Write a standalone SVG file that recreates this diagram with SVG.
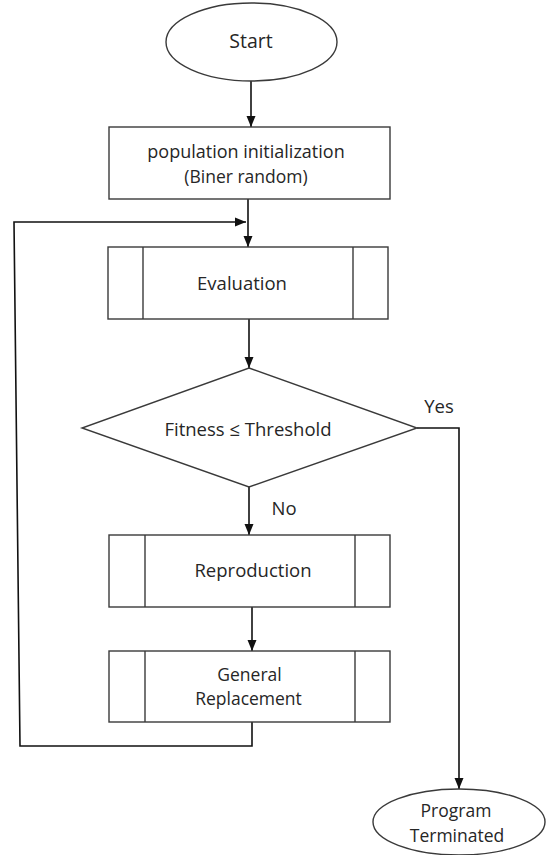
<svg xmlns="http://www.w3.org/2000/svg" width="546" height="855" viewBox="0 0 546 855">
<style>
.shape{fill:#fff;stroke:#3a3a3a;stroke-width:1.4}
.inner{stroke:#3a3a3a;stroke-width:1.4;fill:none}
.conn{fill:none;stroke:#111;stroke-width:1.6}
text{font-family:"Open Sans","Liberation Sans",sans-serif;font-size:18.5px;fill:#262626;text-anchor:middle}
.two{font-size:17.5px}
</style>
<defs>
<marker id="arr" markerUnits="userSpaceOnUse" markerWidth="12" markerHeight="12" viewBox="0 0 12 12" refX="11" refY="6" orient="auto">
<path d="M0,1.5 L11,6 L0,10.5 Z" fill="#111"/>
</marker>
</defs>
<rect width="546" height="855" fill="#fff"/>
<g id="connectors">
<line class="conn" x1="251" y1="81" x2="251" y2="127" marker-end="url(#arr)"/>
<line class="conn" x1="248" y1="199" x2="248" y2="247" marker-end="url(#arr)"/>
<polyline class="conn" points="252,722 252,746 20,746 14,222 246,222" marker-end="url(#arr)"/>
<line class="conn" x1="249" y1="319" x2="249" y2="368" marker-end="url(#arr)"/>
<line class="conn" x1="249" y1="487" x2="249" y2="535" marker-end="url(#arr)"/>
<line class="conn" x1="252" y1="607" x2="252" y2="651" marker-end="url(#arr)"/>
<polyline class="conn" points="417,428 459,428 459,789" marker-end="url(#arr)"/>
<text x="439" y="413">Yes</text>
<text x="284" y="515">No</text>
</g>
<g id="start">
<ellipse class="shape" cx="251.5" cy="42" rx="85.5" ry="39"/>
<text x="251" y="48" style="font-size:19.5px">Start</text>
</g>
<g id="init">
<rect class="shape" x="109" y="127" width="281" height="72"/>
<text class="two" x="246" y="158" style="font-size:18px">population initialization</text>
<text class="two" x="246" y="183">(Biner random)</text>
</g>
<g id="evaluation">
<rect class="shape" x="108" y="247" width="280" height="72"/>
<line class="inner" x1="143" y1="247" x2="143" y2="319"/>
<line class="inner" x1="353" y1="247" x2="353" y2="319"/>
<text x="242" y="290">Evaluation</text>
</g>
<g id="decision">
<polygon class="shape" points="249,368 417,428 249,487 82,428"/>
<text x="248" y="436">Fitness ≤ Threshold</text>
</g>
<g id="reproduction">
<rect class="shape" x="109" y="535" width="281" height="72"/>
<line class="inner" x1="145" y1="535" x2="145" y2="607"/>
<line class="inner" x1="355" y1="535" x2="355" y2="607"/>
<text x="253" y="577">Reproduction</text>
</g>
<g id="replacement">
<rect class="shape" x="109" y="651" width="281" height="71"/>
<line class="inner" x1="145" y1="651" x2="145" y2="722"/>
<line class="inner" x1="355" y1="651" x2="355" y2="722"/>
<text class="two" x="249.5" y="681">General</text>
<text class="two" x="248.5" y="705">Replacement</text>
</g>
<g id="terminated">
<ellipse class="shape" cx="459" cy="822" rx="86" ry="33"/>
<text class="two" x="456" y="817">Program</text>
<text class="two" x="457" y="842">Terminated</text>
</g>
</svg>
